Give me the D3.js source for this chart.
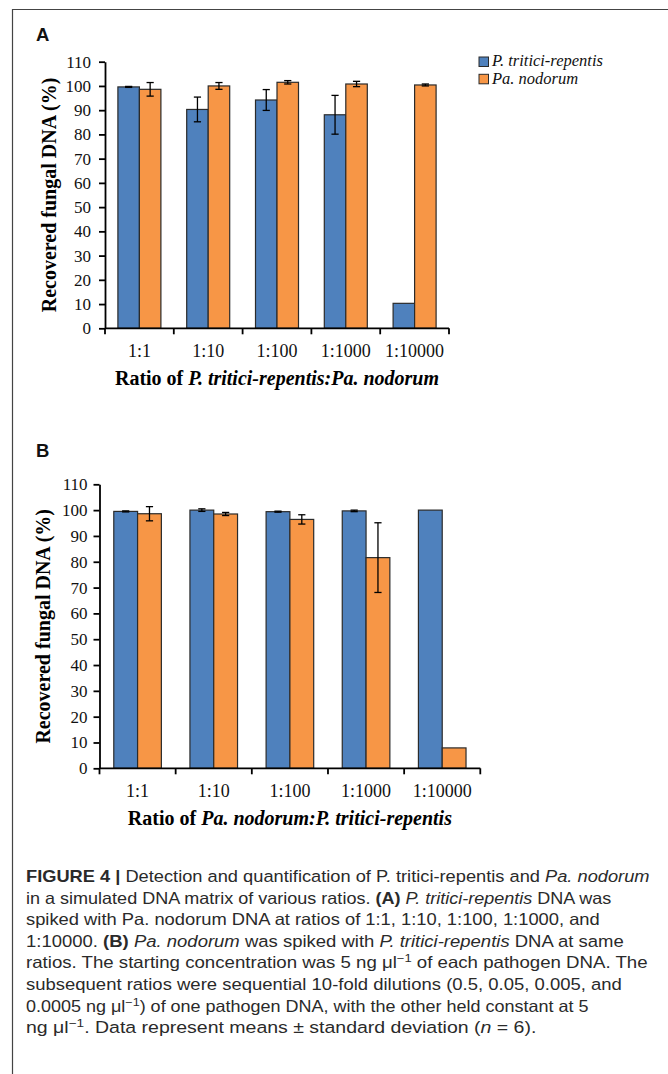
<!DOCTYPE html>
<html>
<head>
<meta charset="utf-8">
<script src="https://cdn.jsdelivr.net/npm/d3@7"></script>
<style>
  html, body { margin: 0; padding: 0; background: #fff; }
  svg { display: block; }
  .tick text { font-family: "Liberation Serif", "Times New Roman", serif; }
</style>
</head>
<body>
<svg id="chart" width="668" height="1074"></svg>
<script>
// Categories and series
const ratios = ["1:1", "1:10", "1:100", "1:1000", "1:10000"];
const seriesNames = ["P. tritici-repentis", "Pa. nodorum"];
const seriesColors = ["#4f81bd", "#f79646"];
const yTicks = [0, 10, 20, 30, 40, 50, 60, 70, 80, 90, 100, 110];

// Panel A: P. tritici-repentis spiked with Pa. nodorum
const aPtr = [99.6, 90.3, 94.2, 88.1, 10.3];
const aPtrSd = [0.2, 5.1, 4.3, 8.0, 0];
const aPno = [98.6, 100.0, 101.5, 100.8, 100.4];
const aPnoSd = [2.8, 1.4, 0.7, 1.1, 0.4];

// Panel B: Pa. nodorum spiked with P. tritici-repentis
const bPtr = [99.5, 100.0, 99.4, 99.7, 100.0];
const bPtrSd = [0.2, 0.5, 0.2, 0.3, 0];
const bPno = [98.6, 98.5, 96.4, 81.6, 7.9];
const bPnoSd = [2.75, 0.6, 1.8, 13.5, 0];

const svg = d3.select("#chart");
const serif = '"Liberation Serif", "Times New Roman", serif';
const sans = '"Liberation Sans", Arial, sans-serif';

// Frame around the figure
svg.append("path")
  .attr("d", "M12.5,1074V9.5H668")
  .attr("fill", "none")
  .attr("stroke", "#444")
  .attr("stroke-width", 1.2);

const panels = [
  {
    label: "A", labelY: 41,
    x0: 105, x1: 449, yTop: 61.7, yBot: 328.3,
    vals: [aPtr, aPno], sds: [aPtrSd, aPnoSd],
    tickPad: 8, yLabelX: 55.5,
    tickLabelY: 357, titleY: 385,
    title: [["Ratio of ", "normal"], ["P. tritici-repentis:Pa. nodorum", "italic"]],
    legend: true
  },
  {
    label: "B", labelY: 457,
    x0: 99.5, x1: 480.3, yTop: 484.3, yBot: 768.3,
    vals: [bPtr, bPno], sds: [bPtrSd, bPnoSd],
    tickPad: 6, yLabelX: 49.5,
    tickLabelY: 797, titleY: 825,
    title: [["Ratio of ", "normal"], ["Pa. nodorum:P. tritici-repentis", "italic"]],
    legend: false
  }
];

panels.forEach(drawPanel);

function drawPanel(p) {
  const g = svg.append("g");

  // Panel letter
  g.append("text")
    .attr("x", 36)
    .attr("y", p.labelY)
    .attr("font-family", sans)
    .attr("font-weight", "bold")
    .attr("font-size", 18.5)
    .attr("fill", "#111")
    .text(p.label);

  const x = d3.scaleBand()
    .domain(ratios)
    .range([p.x0, p.x1])
    .paddingInner(0.375)
    .paddingOuter(0.1875);
  const xs = d3.scaleBand()
    .domain(seriesNames)
    .range([0, x.bandwidth()]);
  const y = d3.scaleLinear().domain([0, 110]).range([p.yBot, p.yTop]);

  // Bars
  seriesNames.forEach((s, si) => {
    g.append("g")
      .selectAll("rect")
      .data(ratios)
      .join("rect")
      .attr("x", (d) => x(d) + xs(s))
      .attr("y", (d, i) => y(p.vals[si][i]))
      .attr("width", xs.bandwidth())
      .attr("height", (d, i) => y(0) - y(p.vals[si][i]))
      .attr("fill", seriesColors[si])
      .attr("stroke", "#2b2b2b")
      .attr("stroke-width", 1.2);
  });

  // Error bars
  seriesNames.forEach((s, si) => {
    const eg = g.append("g").attr("stroke", "#000").attr("stroke-width", 1.3);
    ratios.forEach((r, i) => {
      const sd = p.sds[si][i];
      if (!sd) return;
      const cx = x(r) + xs(s) + xs.bandwidth() / 2;
      const hi = y(p.vals[si][i] + sd);
      const lo = y(p.vals[si][i] - sd);
      eg.append("line").attr("x1", cx).attr("x2", cx).attr("y1", hi).attr("y2", lo);
      eg.append("line").attr("x1", cx - 3.6).attr("x2", cx + 3.6).attr("y1", hi).attr("y2", hi);
      eg.append("line").attr("x1", cx - 3.6).attr("x2", cx + 3.6).attr("y1", lo).attr("y2", lo);
    });
  });

  // Y axis
  const yAxis = d3.axisLeft(y)
    .tickValues(yTicks)
    .tickSize(6)
    .tickSizeOuter(0)
    .tickPadding(p.tickPad);
  const gy = g.append("g")
    .attr("transform", `translate(${p.x0},0)`)
    .call(yAxis);
  gy.selectAll("path, line").attr("stroke", "#000").attr("stroke-width", 1.8);
  gy.selectAll("text")
    .attr("font-size", 17)
    .attr("fill", "#111")
    .attr("font-family", serif);

  // X axis: baseline with ticks at category boundaries
  const gx = g.append("g").attr("stroke", "#000").attr("stroke-width", 1.8);
  gx.append("line")
    .attr("x1", p.x0).attr("x2", p.x1)
    .attr("y1", y(0)).attr("y2", y(0));
  const bounds = ratios.map((r) => x(r) - x.step() * x.paddingOuter()).concat([p.x1]);
  gx.selectAll("line.tk")
    .data(bounds)
    .join("line")
    .attr("class", "tk")
    .attr("x1", (d) => d).attr("x2", (d) => d)
    .attr("y1", y(0)).attr("y2", y(0) + 6);

  // Category labels
  g.append("g")
    .selectAll("text")
    .data(ratios)
    .join("text")
    .attr("x", (d) => x(d) + x.bandwidth() / 2)
    .attr("y", p.tickLabelY)
    .attr("text-anchor", "middle")
    .attr("font-family", serif)
    .attr("font-size", 18)
    .attr("fill", "#111")
    .text((d) => d);

  // X title
  const xt = g.append("text")
    .attr("x", (p.x0 + p.x1) / 2)
    .attr("y", p.titleY)
    .attr("text-anchor", "middle")
    .attr("font-family", serif)
    .attr("font-weight", "bold")
    .attr("font-size", 20)
    .attr("fill", "#000");
  p.title.forEach(([t, st]) => xt.append("tspan").attr("font-style", st).text(t));

  // Y title
  g.append("text")
    .attr("transform", `translate(${p.yLabelX},${(p.yTop + p.yBot) / 2}) rotate(-90)`)
    .attr("text-anchor", "middle")
    .attr("font-family", serif)
    .attr("font-weight", "bold")
    .attr("font-size", 20)
    .attr("fill", "#000")
    .text("Recovered fungal DNA (%)");

  // Legend
  if (p.legend) {
    const lg = g.append("g").attr("transform", "translate(479,57)");
    seriesNames.forEach((s, i) => {
      const row = lg.append("g").attr("transform", `translate(0,${i * 17.3})`);
      row.append("rect")
        .attr("width", 9.5).attr("height", 9.5)
        .attr("fill", seriesColors[i])
        .attr("stroke", "#2b2b2b")
        .attr("stroke-width", 1);
      row.append("text")
        .attr("x", 13)
        .attr("y", 9.3)
        .attr("font-family", serif)
        .attr("font-style", "italic")
        .attr("font-size", 16.5)
        .attr("fill", "#111")
        .text(s);
    });
  }
}

// Caption
const captionLines = [
  { w: 624, parts: [["FIGURE 4 |", "b"], [" Detection and quantification of P. tritici-repentis and "], ["Pa. nodorum", "i"]] },
  { w: 586, parts: [["in a simulated DNA matrix of various ratios. "], ["(A)", "b"], [" "], ["P. tritici-repentis", "i"], [" DNA was"]] },
  { w: 574, parts: [["spiked with Pa. nodorum DNA at ratios of 1:1, 1:10, 1:100, 1:1000, and"]] },
  { w: 598, parts: [["1:10000. "], ["(B)", "b"], [" "], ["Pa. nodorum", "i"], [" was spiked with "], ["P. tritici-repentis", "i"], [" DNA at same"]] },
  { w: 622, parts: [["ratios. The starting concentration was 5 ng μl"], ["−1", "sup"], [" of each pathogen DNA. The"]] },
  { w: 596, parts: [["subsequent ratios were sequential 10-fold dilutions (0.5, 0.05, 0.005, and"]] },
  { w: 563, parts: [["0.0005 ng μl"], ["−1", "sup"], [") of one pathogen DNA, with the other held constant at 5"]] },
  { w: 511, parts: [["ng μl"], ["−1", "sup"], [". Data represent means ± standard deviation ("], ["n", "i"], [" = 6)."]] }
];

const cap = svg.append("g")
  .attr("font-family", sans)
  .attr("font-size", 16.5)
  .attr("fill", "#2a2a2a");

captionLines.forEach((line, li) => {
  const t = cap.append("text").attr("x", 0).attr("y", 0);
  line.parts.forEach(([txt, st]) => {
    const ts = t.append("tspan").text(txt);
    if (st === "b") ts.attr("font-weight", "bold");
    if (st === "i") ts.attr("font-style", "italic");
    if (st === "sup") {
      ts.attr("font-size", 11.5).attr("dy", -6);
    }
  });
  // return to baseline after superscripts
  t.selectAll("tspan").each(function (d, i, nodes) {
    const prev = i > 0 ? nodes[i - 1] : null;
    if (prev && prev.getAttribute("dy") === "-6") d3.select(this).attr("dy", 6);
  });
  const len = t.node().getComputedTextLength();
  const sx = line.w / len;
  t.attr("transform", `translate(26,${882 + li * 21.6}) scale(${sx},1)`);
});
</script>
</body>
</html>
